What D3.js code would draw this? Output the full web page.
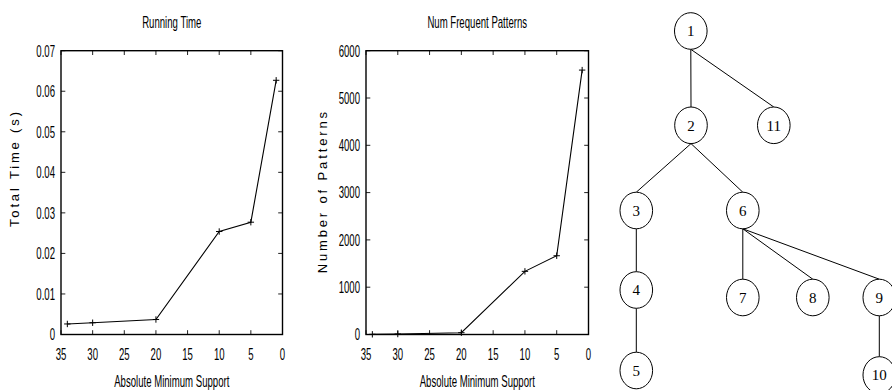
<!DOCTYPE html>
<html>
<head>
<meta charset="utf-8">
<script src="https://cdn.jsdelivr.net/npm/d3@7/dist/d3.min.js"></script>
<style>
  html, body { margin: 0; padding: 0; background: #fff; }
  svg { display: block; }
  text { fill: #000; }
</style>
</head>
<body>
<script>
// ---- data ----
const minSupport   = [34, 30, 20, 10, 5, 1];
const runningTime  = [0.0026, 0.0029, 0.0037, 0.0254, 0.0277, 0.0627];
const numPatterns  = [4, 10, 38, 1335, 1665, 5590];

const supportTicks = [35, 30, 25, 20, 15, 10, 5, 0];
const timeTicks    = [0, 0.01, 0.02, 0.03, 0.04, 0.05, 0.06, 0.07];
const timeLabels   = ["0", "0.01", "0.02", "0.03", "0.04", "0.05", "0.06", "0.07"];
const patternTicks = [0, 1000, 2000, 3000, 4000, 5000, 6000];
const patternLabels = ["0", "1000", "2000", "3000", "4000", "5000", "6000"];

// tree: node labels and parent of each node
const treeNodes   = ["1", "2", "3", "4", "5", "6", "7", "8", "9", "10", "11"];
const treeParents = [null, "1", "2", "3", "4", "2", "6", "6", "6", "9", "1"];

// ---- drawing ----
const W = 892, H = 390;
const svg = d3.select("body").append("svg").attr("width", W).attr("height", H);

const SANS = "'Liberation Sans', Arial, Helvetica, sans-serif";

// condensed label text (narrow Helvetica look)
function ctext(g, x, y, str, anchor) {
  return g.append("text")
    .attr("transform", `translate(${x},${y}) scale(0.6,1)`)
    .attr("text-anchor", anchor)
    .style("font-family", SANS)
    .style("font-size", "16px")
    .text(str);
}

function panel(opts) {
  const g = svg.append("g");
  const x = d3.scaleLinear().domain([35, 0]).range([opts.left, opts.right]);
  const y = d3.scaleLinear().domain(opts.yDomain).range([opts.bottom, opts.top]);
  const tk = 4.3;

  // tick marks, mirrored on all four sides, pointing inward
  const ticks = g.append("g").attr("stroke", "#222").attr("stroke-width", 1);
  opts.yTicks.forEach(v => {
    ticks.append("line").attr("x1", opts.left).attr("x2", opts.left + tk).attr("y1", y(v)).attr("y2", y(v));
    ticks.append("line").attr("x1", opts.right).attr("x2", opts.right - tk).attr("y1", y(v)).attr("y2", y(v));
  });
  supportTicks.forEach(v => {
    ticks.append("line").attr("x1", x(v)).attr("x2", x(v)).attr("y1", opts.bottom).attr("y2", opts.bottom - tk);
    ticks.append("line").attr("x1", x(v)).attr("x2", x(v)).attr("y1", opts.top).attr("y2", opts.top + tk);
  });

  // border
  g.append("rect")
    .attr("x", opts.left).attr("y", opts.top)
    .attr("width", opts.right - opts.left).attr("height", opts.bottom - opts.top)
    .attr("fill", "none").attr("stroke", "#000").attr("stroke-width", 1.4);

  // tick labels
  opts.yTicks.forEach((v, i) => ctext(g, opts.left - 6, y(v) + 5.8, opts.yLabels[i], "end"));
  supportTicks.forEach(v => ctext(g, x(v), 360, String(v), "middle"));

  // titles
  ctext(g, (opts.left + opts.right) / 2, 28.3, opts.title, "middle");
  ctext(g, (opts.left + opts.right) / 2, 386.5, "Absolute Minimum Support", "middle");

  // rotated y-axis label, letter-spaced
  g.append("text")
    .attr("transform", `translate(${opts.ylabX},${opts.ylabY0}) rotate(-90)`)
    .attr("text-anchor", "start")
    .attr("textLength", opts.ylabY0 - opts.ylabY1)
    .attr("lengthAdjust", "spacing")
    .style("font-family", SANS)
    .style("font-size", "13px")
    .text(opts.ylabel);

  // series line
  const pts = minSupport.map((s, i) => [x(s), y(opts.values[i])]);
  g.append("path")
    .attr("d", d3.line()(pts))
    .attr("fill", "none").attr("stroke", "#000").attr("stroke-width", 1.1);

  // "+" point markers
  const m = 3.2;
  const marks = g.append("g").attr("stroke", "#000").attr("stroke-width", 1);
  pts.forEach(([px, py]) => {
    marks.append("line").attr("x1", px - m).attr("x2", px + m).attr("y1", py).attr("y2", py);
    marks.append("line").attr("x1", px).attr("x2", px).attr("y1", py - m).attr("y2", py + m);
  });
}

panel({
  left: 61, right: 282.5, top: 50.7, bottom: 334.5,
  yDomain: [0, 0.07], yTicks: timeTicks, yLabels: timeLabels,
  values: runningTime, title: "Running Time",
  ylabel: "Total Time (s)", ylabX: 19.3, ylabY0: 227, ylabY1: 112
});

panel({
  left: 366, right: 588.5, top: 50.7, bottom: 334.5,
  yDomain: [0, 6000], yTicks: patternTicks, yLabels: patternLabels,
  values: numPatterns, title: "Num Frequent Patterns",
  ylabel: "Number of Patterns", ylabX: 326.5, ylabY0: 273.3, ylabY1: 112
});

// ---- tree diagram ----
// node placement (layout of the drawing)
const nodePos = {
  "1": [690.8, 31],    "2": [691, 125.3],   "11": [773.8, 125.3],
  "3": [636.3, 210.5], "6": [742.8, 210.5],
  "4": [636.3, 290],   "7": [742.8, 297.5], "8": [812.8, 297.5], "9": [879.3, 297.5],
  "5": [636.3, 370.5], "10": [879.3, 375]
};
const RX = 16.3, RY = 18.3;

const root = d3.stratify()
  .id((d, i) => treeNodes[i])
  .parentId((d, i) => treeParents[i])(treeNodes);

const tree = svg.append("g");
tree.selectAll("line.edge")
  .data(root.links())
  .join("line")
  .attr("class", "edge")
  .attr("x1", d => nodePos[d.source.id][0])
  .attr("y1", d => nodePos[d.source.id][1] + RY)
  .attr("x2", d => nodePos[d.target.id][0])
  .attr("y2", d => nodePos[d.target.id][1] - RY)
  .attr("stroke", "#000").attr("stroke-width", 1);

const nodeG = tree.selectAll("g.node")
  .data(root.descendants())
  .join("g")
  .attr("class", "node")
  .attr("transform", d => `translate(${nodePos[d.id][0]},${nodePos[d.id][1]})`);

nodeG.append("ellipse")
  .attr("rx", RX).attr("ry", RY)
  .attr("fill", "#fff").attr("stroke", "#000").attr("stroke-width", 1);

nodeG.append("text")
  .attr("text-anchor", "middle")
  .attr("y", 5.3)
  .style("font-family", "'Liberation Serif', 'Times New Roman', serif")
  .style("font-size", "15px")
  .text(d => d.id);
</script>
</body>
</html>
